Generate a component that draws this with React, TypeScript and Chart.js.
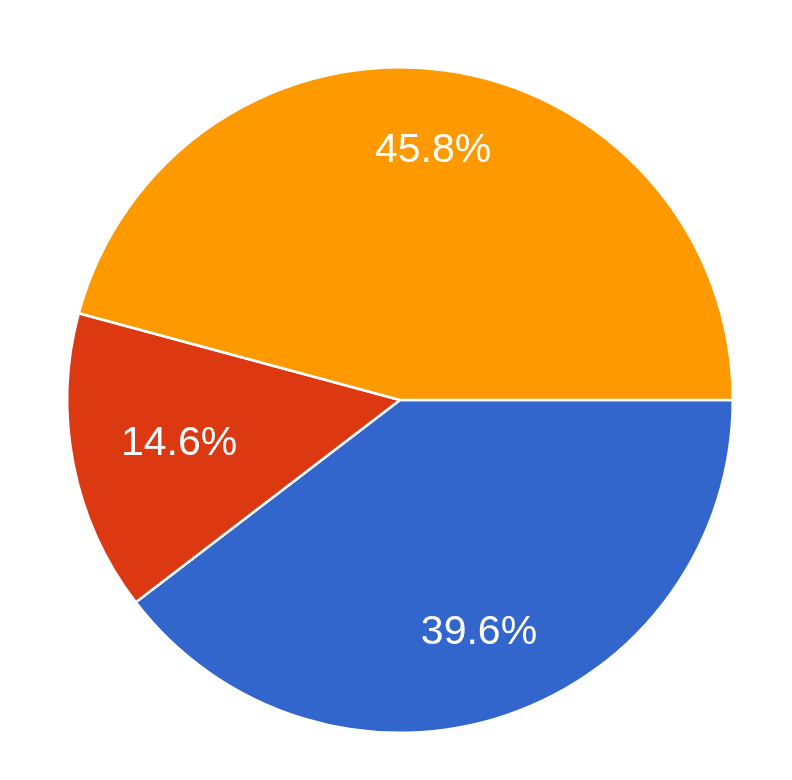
import React, { useEffect, useRef } from "react";
import { Chart, registerables } from "chart.js";

Chart.register(...registerables);

const labels = ["Blue", "Red", "Orange"];
const values = [39.6, 14.6, 45.8];
const colors = ["#3366CC", "#DC3912", "#FF9900"];

const pctLabels = {
  id: "pctLabels",
  afterDatasetsDraw(chart: any) {
    const ctx = chart.ctx;
    const meta = chart.getDatasetMeta(0);
    const ds = chart.data.datasets[0].data as number[];
    const total = ds.reduce((a, b) => a + b, 0);
    ctx.save();
    ctx.fillStyle = "#ffffff";
    ctx.font = '41px "Liberation Sans", Arial, sans-serif';
    ctx.textAlign = "center";
    ctx.textBaseline = "middle";
    meta.data.forEach((arc: any, i: number) => {
      const { x, y, startAngle, endAngle, outerRadius } = arc.getProps(
        ["x", "y", "startAngle", "endAngle", "outerRadius"],
        true
      );
      const mid = (startAngle + endAngle) / 2;
      const span = endAngle - startAngle;
      // larger slices push the label a bit further out
      const frac = 0.64 + 0.04 * span;
      const r = outerRadius * frac;
      const tx = x + Math.cos(mid) * r;
      const ty = y + Math.sin(mid) * r;
      ctx.fillText(((ds[i] / total) * 100).toFixed(1) + "%", tx, ty);
    });
    ctx.restore();
  },
};

export default function App() {
  const ref = useRef<HTMLCanvasElement>(null);
  useEffect(() => {
    if (!ref.current) return;
    const chart = new Chart(ref.current, {
      type: "pie",
      data: {
        labels,
        datasets: [
          {
            data: values,
            backgroundColor: colors,
            borderColor: "#ffffff",
            borderWidth: 2.5,
          },
        ],
      },
      options: {
        animation: false,
        responsive: false,
        rotation: 90,
        layout: { padding: { left: 66, right: 58, top: 66, bottom: 46 } },
        plugins: {
          legend: { display: false },
          tooltip: { enabled: false },
        },
      },
      plugins: [pctLabels],
    });
    return () => chart.destroy();
  }, []);
  return (
    <div style={{ position: "fixed", left: 0, top: 0, width: 792, height: 780, background: "#fff" }}>
      <canvas ref={ref} width={792} height={780} style={{ width: 792, height: 780 }} />
    </div>
  );
}
